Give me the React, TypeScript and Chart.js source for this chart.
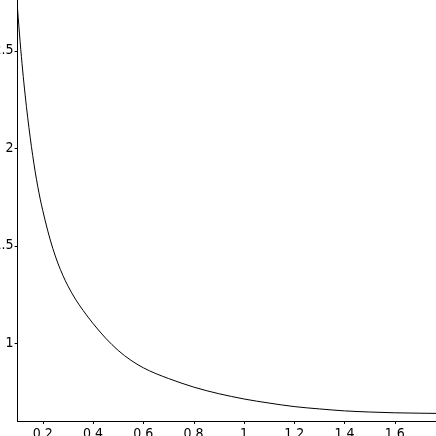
import React, { useEffect, useRef } from "react";
import { Chart, registerables } from "chart.js";

Chart.register(...registerables);

const xValues = [0.1, 0.11, 0.12, 0.13, 0.14, 0.15, 0.16, 0.17, 0.18, 0.19, 0.2, 0.22, 0.24, 0.26, 0.28, 0.3, 0.33, 0.36, 0.4, 0.45, 0.5, 0.55, 0.6, 0.65, 0.7, 0.75, 0.8, 0.85, 0.9, 0.95, 1.0, 1.1, 1.2, 1.3, 1.4, 1.5, 1.6, 1.7, 1.764];
const yValues = [2.71, 2.545, 2.4, 2.272, 2.158, 2.055, 1.962, 1.878, 1.804, 1.738, 1.68, 1.575, 1.485, 1.41, 1.347, 1.293, 1.225, 1.168, 1.1, 1.025, 0.962, 0.912, 0.873, 0.843, 0.818, 0.795, 0.774, 0.756, 0.74, 0.726, 0.713, 0.692, 0.674, 0.662, 0.652, 0.646, 0.642, 0.64, 0.639];

const xMin = 0.1;
const xMax = 1.764;
const yMin = 0.6;
const yMax = 2.759;
const xMinorStep = 0.04;
const xMajorStep = 0.2;
const yMinorStep = 0.1;
const yMajorStep = 0.5;

const isMultiple = (v: number, step: number) => Math.abs(v / step - Math.round(v / step)) < 1e-6;
const fmt = (v: number) => String(Number(v.toFixed(2)));

const FONT = "'DejaVu Sans Condensed', 'Liberation Sans Narrow', 'Liberation Sans', Arial, sans-serif";

const tickPlugin = {
  id: "mapleTicks",
  afterDraw(chart: any) {
    const ctx = chart.ctx;
    const xs = chart.scales.x;
    const ys = chart.scales.y;
    ctx.save();
    ctx.strokeStyle = "#000";
    ctx.lineWidth = 1;
    ctx.beginPath();
    for (const t of xs.ticks) {
      const px = Math.round(xs.getPixelForValue(t.value)) + 0.5;
      const len = isMultiple(t.value, xMajorStep) ? 3 : 2;
      ctx.moveTo(px, xs.top);
      ctx.lineTo(px, xs.top + len);
    }
    for (const t of ys.ticks) {
      const py = Math.round(ys.getPixelForValue(t.value)) + 0.5;
      const len = isMultiple(t.value, yMajorStep) ? 3 : 2;
      ctx.moveTo(ys.right, py);
      ctx.lineTo(ys.right - len, py);
    }
    ctx.stroke();
    ctx.restore();
  },
};

export default function App() {
  const ref = useRef<HTMLCanvasElement | null>(null);
  useEffect(() => {
    if (!ref.current) return;
    const chart = new Chart(ref.current, {
      type: "line",
      data: {
        datasets: [
          {
            data: xValues.map((x, i) => ({ x, y: yValues[i] })),
            borderColor: "#000",
            borderWidth: 1,
            pointRadius: 0,
            cubicInterpolationMode: "monotone",
            fill: false,
          },
        ],
      },
      options: {
        responsive: false,
        animation: false,
        events: [],
        layout: { padding: 0 },
        plugins: { legend: { display: false }, tooltip: { enabled: false } },
        scales: {
          x: {
            type: "linear",
            min: xMin,
            max: xMax,
            afterFit: (s: any) => {
              s.height = 15;
              s.paddingLeft = 0;
              s.paddingRight = 0;
            },
            grid: { display: false, drawTicks: false },
            border: { display: true, color: "#000", width: 1 },
            ticks: {
              stepSize: xMinorStep,
              includeBounds: false,
              autoSkip: false,
              maxRotation: 0,
              padding: 5,
              color: "#000",
              font: { family: FONT, size: 14 },
              callback: (v: any) => (isMultiple(Number(v), xMajorStep) ? fmt(Number(v)) : null),
            },
          },
          y: {
            type: "linear",
            min: yMin,
            max: yMax,
            afterFit: (s: any) => {
              s.width = 17.6;
              s.paddingTop = 0;
              s.paddingBottom = 0;
            },
            grid: { display: false, drawTicks: false },
            border: { display: true, color: "#000", width: 1 },
            ticks: {
              stepSize: yMinorStep,
              includeBounds: false,
              autoSkip: false,
              padding: 4,
              color: "#000",
              font: { family: FONT, size: 14 },
              callback: (v: any) => (isMultiple(Number(v), yMajorStep) ? fmt(Number(v)) : null),
            },
          },
        },
      },
      plugins: [tickPlugin],
    } as any);
    return () => chart.destroy();
  }, []);
  return (
    <canvas
      ref={ref}
      width={436}
      height={436}
      style={{ position: "fixed", left: 0, top: 0, width: 436, height: 436, background: "#fff" }}
    />
  );
}
